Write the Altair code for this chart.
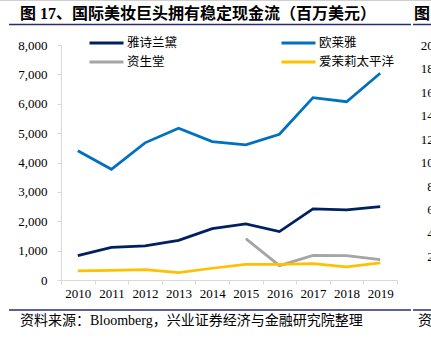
import altair as alt
import pandas as pd

# ---- data ----
years = [2010, 2011, 2012, 2013, 2014, 2015, 2016, 2017, 2018, 2019]
series_names = ["雅诗兰黛", "资生堂", "欧莱雅", "爱茉莉太平洋"]
estee = [830, 1110, 1160, 1350, 1750, 1910, 1650, 2420, 2390, 2500]
shiseido = [None, None, None, None, None, 1410, 490, 840, 830, 690]
loreal = [4400, 3770, 4670, 5170, 4710, 4600, 4960, 6210, 6070, 7040]
amore = [310, 330, 350, 250, 400, 530, 530, 560, 450, 580]
series_colors = ["#002060", "#a5a5a5", "#0070c0", "#ffc000"]
y_ticks = [0, 1000, 2000, 3000, 4000, 5000, 6000, 7000, 8000]
next_chart_ticks = [0, 2000, 4000, 6000, 8000, 10000, 12000, 14000, 16000, 18000, 20000]

title_text = "图 17、国际美妆巨头拥有稳定现金流（百万美元）"
source_text = "资料来源：Bloomberg，兴业证券经济与金融研究院整理"
next_title = "图 18、"
next_source = "资料来源："

FONT = "Liberation Serif, Noto Sans CJK SC"
RULE_COLOR = "#262d74"

rows = []
for name, vals in zip(series_names, [estee, shiseido, loreal, amore]):
    for yr, v in zip(years, vals):
        if v is not None:
            rows.append({"year": yr, "value": v, "company": name})
df = pd.DataFrame(rows)

W, H = 336, 235

lines = alt.Chart(df).mark_line(strokeWidth=2.75).encode(
    x=alt.X("year:O", title=None,
            scale=alt.Scale(type="band", paddingInner=0, paddingOuter=0),
            axis=alt.Axis(labelAngle=0, tickBand="extent", tickSize=4,
                          domainColor="#d9d9d9", tickColor="#d9d9d9",
                          labelFont=FONT, labelFontSize=13, labelColor="#000000",
                          labelPadding=3)),
    y=alt.Y("value:Q", title=None,
            scale=alt.Scale(domain=[0, 8000], nice=False),
            axis=alt.Axis(values=y_ticks, format=",.0f", grid=False, tickSize=4,
                          domainColor="#d9d9d9", tickColor="#d9d9d9",
                          labelFont=FONT, labelFontSize=13, labelColor="#000000",
                          labelPadding=10)),
    color=alt.Color("company:N",
                    scale=alt.Scale(domain=series_names, range=series_colors),
                    legend=alt.Legend(title=None, orient="none", legendX=27, legendY=-8.5,
                                      columns=2, symbolType="stroke", symbolSize=1156,
                                      symbolStrokeWidth=3, clipHeight=13,
                                      labelFont=FONT, labelFontSize=12.5, labelColor="#000000",
                                      labelOffset=2, columnPadding=102, rowPadding=6,
                                      padding=0)),
    order=alt.Order("year:O"),
)

# partial axis of the neighbouring figure (cut off at the right edge)
next_axis = alt.Chart(pd.DataFrame({"v": next_chart_ticks})).mark_point(opacity=0).encode(
    y=alt.Y("v:Q", title=None,
            scale=alt.Scale(domain=[0, 20000], nice=False),
            axis=alt.Axis(orient="right", values=next_chart_ticks, format=",.0f",
                          grid=False, ticks=False, tickSize=0, domain=False,
                          labelAlign="right", labelPadding=59,
                          labelFont=FONT, labelFontSize=13, labelColor="#000000")),
)

rules_df = pd.DataFrame({"k": [0]})
top_rule1 = alt.Chart(rules_df).mark_rule(color=RULE_COLOR, strokeWidth=1.6).encode(
    x=alt.value(-52), x2=alt.value(350), y=alt.value(-20.5))
top_rule2 = alt.Chart(rules_df).mark_rule(color=RULE_COLOR, strokeWidth=1.6).encode(
    x=alt.value(352), x2=alt.value(400), y=alt.value(-20.5))
bot_rule1 = alt.Chart(rules_df).mark_rule(color=RULE_COLOR, strokeWidth=1.6).encode(
    x=alt.value(-52), x2=alt.value(350), y=alt.value(265))
bot_rule2 = alt.Chart(rules_df).mark_rule(color=RULE_COLOR, strokeWidth=1.6).encode(
    x=alt.value(352), x2=alt.value(400), y=alt.value(265))
page_edge = alt.Chart(rules_df).mark_rule(color="#cfcfcf", strokeWidth=1).encode(
    x=alt.value(-61), x2=alt.value(400), y=alt.value(-44.5))

title = alt.Chart(pd.DataFrame({"t": [title_text]})).mark_text(
    align="left", baseline="middle", font=FONT, fontSize=16, fontWeight="bold", color="#000000"
).encode(x=alt.value(-41), y=alt.value(-31.5), text="t:N")
title2 = alt.Chart(pd.DataFrame({"t": [next_title]})).mark_text(
    align="left", baseline="middle", font=FONT, fontSize=16, fontWeight="bold", color="#000000"
).encode(x=alt.value(353), y=alt.value(-31.5), text="t:N")
source = alt.Chart(pd.DataFrame({"t": [source_text]})).mark_text(
    align="left", baseline="middle", font=FONT, fontSize=14, color="#000000"
).encode(x=alt.value(-41), y=alt.value(275.7), text="t:N")
source2 = alt.Chart(pd.DataFrame({"t": [next_source]})).mark_text(
    align="left", baseline="middle", font=FONT, fontSize=14, color="#000000"
).encode(x=alt.value(357), y=alt.value(275.7), text="t:N")

chart = alt.layer(
    next_axis, lines, page_edge, top_rule1, top_rule2, bot_rule1, bot_rule2,
    title, title2, source, source2
).resolve_scale(y="independent").properties(
    width=W, height=H,
    autosize=alt.AutoSizeParams(type="none"),
    padding={"left": 61, "top": 45, "right": 34, "bottom": 70},
    background="#ffffff",
).configure_view(stroke=None)

chart.save("out.html", embed_options={"renderer": "svg", "actions": False})
